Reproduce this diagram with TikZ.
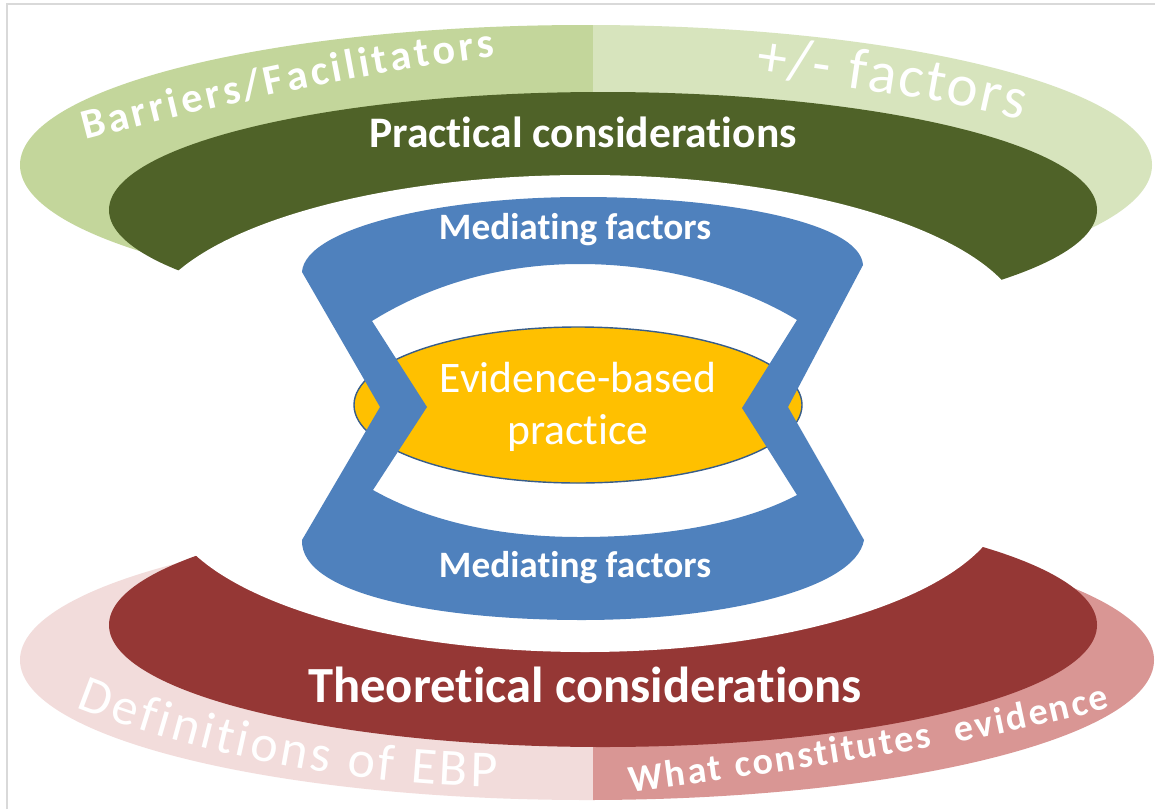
\documentclass[tikz,border=0pt]{standalone}
\usepackage{fontspec}
\setmainfont{Carlito}[Ligatures=CommonOff]
\usetikzlibrary{decorations.text}
\definecolor{lgL}{HTML}{C3D69B}
\definecolor{lgR}{HTML}{D7E4BD}
\definecolor{dg}{HTML}{4F6228}
\definecolor{bl}{HTML}{4F81BD}
\definecolor{yl}{HTML}{FFC000}
\definecolor{yo}{HTML}{385D8A}
\definecolor{dr}{HTML}{953735}
\definecolor{pkL}{HTML}{F2DCDB}
\definecolor{pkR}{HTML}{D99694}
\definecolor{framec}{HTML}{D9D9D9}
\begin{document}
\begin{tikzpicture}[x=0.025cm,y=-0.025cm,
  boldlbl/.style={text=white, inner sep=0pt, font=\bfseries\fontsize{#1}{#1}\selectfont},
  reglbl/.style={text=white, inner sep=0pt, align=center, font=\fontsize{31}{37.5}\selectfont},
  curved/.style={decorate, decoration={text along path, text align=fit to path, text={#1}}}]
\useasboundingbox (0,0) rectangle (1155,809);
\fill[white] (0,0) rectangle (1155,809);
\draw[framec, line width=0.8pt] (7,809) -- (7,4) -- (1155,4);

% ---------- upper (green) arcs ----------
\begin{scope}
  \clip (0,0) rectangle (593,809);
  \fill[lgL] (586,165) ellipse [x radius=566, y radius=140];
\end{scope}
\begin{scope}
  \clip (593,0) rectangle (1155,809);
  \fill[lgR] (586,165) ellipse [x radius=566, y radius=140];
\end{scope}
\fill[dg] (603,210) ellipse [x radius=494, y radius=118];
\fill[white] (585,330) ellipse [x radius=440, y radius=155];

% ---------- lower (red) arcs ----------
\begin{scope}
  \clip (0,0) rectangle (593,809);
  \fill[pkL] (587,660) ellipse [x radius=567, y radius=140];
\end{scope}
\begin{scope}
  \clip (593,0) rectangle (1155,809);
  \fill[pkR] (587,660) ellipse [x radius=567, y radius=140];
\end{scope}
\fill[dr] (603,625) ellipse [x radius=494, y radius=122];
\fill[white] (585,497) ellipse [x radius=420, y radius=155];

% ---------- centre ----------
\draw[fill=yl, draw=yo, line width=1pt] (578,405) ellipse [x radius=224, y radius=78];
\fill[bl, even odd rule]
  (302,272) .. controls (305,228) and (440,197) .. (582,197)
  .. controls (725,197) and (860,222) .. (863,265) -- (788,407) -- (864,540)
  .. controls (855,590) and (720,620) .. (582,620)
  .. controls (440,620) and (300,595) .. (302,540) -- (380,407) -- cycle
  (372,321) .. controls (430,285) and (500,264) .. (580,264)
  .. controls (660,264) and (740,285) .. (797,320) -- (742,408) -- (797,495)
  .. controls (740,525) and (660,537) .. (580,537)
  .. controls (500,537) and (430,522) .. (373,490) -- (427,407) -- cycle;

% ---------- straight labels ----------
\node[boldlbl=31] (prac) at (583,132) {Practical considerations};
\node[boldlbl=26.5] (medtop) at (575,230) {Mediating factors};
\node[reglbl] (ebp) at (578,407) {Evidence-based\\practice};
\node[boldlbl=26.5] (medbot) at (575,568) {Mediating factors};
\node[boldlbl=36] (theo) at (585,685) {Theoretical considerations};

% ---------- curved labels ----------
\path[curved={|\fontsize{30}{34}\selectfont\bfseries\color{white}|Barriers/Facilitators}]
  (85,140) .. controls (180,115) and (340,75) .. (495,57);
\path[curved={|\fontsize{42}{46}\selectfont\color{white}|+/- factors}]
  (755,74) .. controls (850,88) and (950,100) .. (1022,120);
\path[curved={|\fontsize{37}{42}\selectfont\color{white}|Definitions of EBP}]
  (76,707) .. controls (170,745) and (330,785) .. (497,787);
\path[curved={|\fontsize{27}{31}\selectfont\bfseries\color{white}|What constitutes{\ }{\ }evidence}]
  (630,792) .. controls (760,775) and (950,750) .. (1110,708);
\end{tikzpicture}
\end{document}
